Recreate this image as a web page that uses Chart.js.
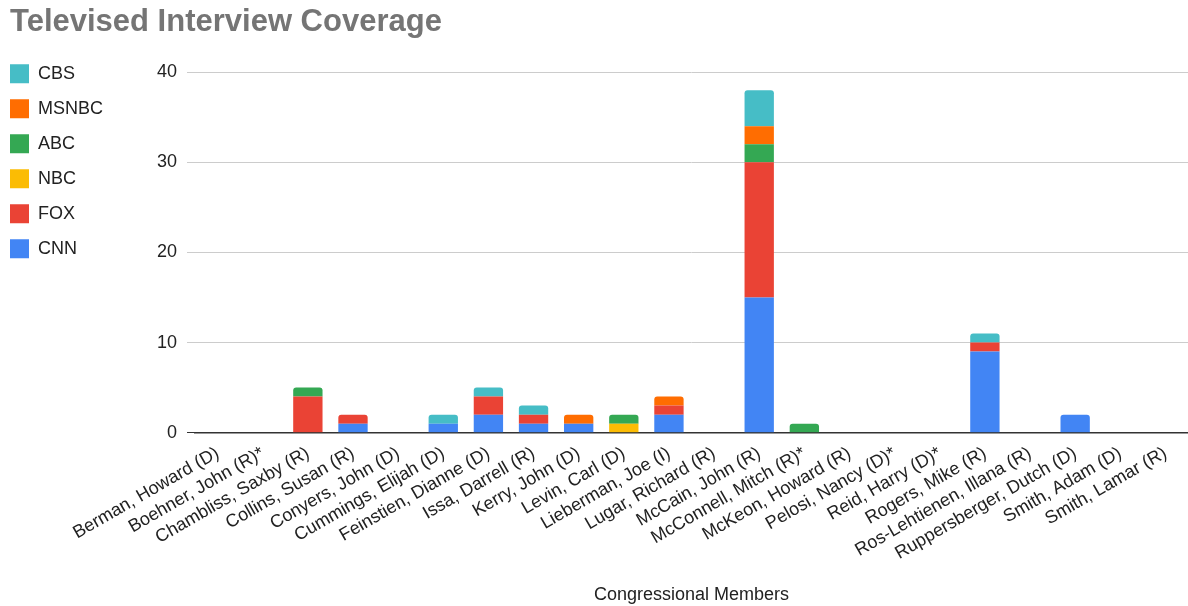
<!DOCTYPE html>
<html>
<head>
<meta charset="utf-8">
<script src="https://cdn.jsdelivr.net/npm/chart.js@4/dist/chart.umd.min.js"></script>
<style>
  html, body { margin: 0; padding: 0; background: #fff; }
  #wrap { width: 1188px; height: 606px; position: relative; }
</style>
</head>
<body>
<div id="wrap"><canvas id="chart"></canvas></div>
<script>
// Congressional members (x categories)
const members = [
    "Berman, Howard (D)", "Boehner, John (R)*", "Chambliss, Saxby (R)", "Collins, Susan (R)",
    "Conyers, John (D)", "Cummings, Elijah (D)", "Feinstien, Dianne (D)", "Issa, Darrell (R)",
    "Kerry, John (D)", "Levin, Carl (D)", "Lieberman, Joe (I)", "Lugar, Richard (R)",
    "McCain, John (R)", "McConnell, Mitch (R)*", "McKeon, Howard (R)", "Pelosi, Nancy (D)*",
    "Reid, Harry (D)*", "Rogers, Mike (R)", "Ros-Lehtienen, Illana (R)", "Ruppersberger, Dutch (D)",
    "Smith, Adam (D)", "Smith, Lamar (R)"
];

// interviews per network, stacked bottom to top
const cnn   = [0, 0, 0, 1, 0, 1, 2, 1, 1, 0, 2, 0, 15, 0, 0, 0, 0, 9, 0, 2, 0, 0];
const fox   = [0, 0, 4, 1, 0, 0, 2, 1, 0, 0, 1, 0, 15, 0, 0, 0, 0, 1, 0, 0, 0, 0];
const nbc   = [0, 0, 0, 0, 0, 0, 0, 0, 0, 1, 0, 0, 0, 0, 0, 0, 0, 0, 0, 0, 0, 0];
const abc   = [0, 0, 1, 0, 0, 0, 0, 0, 0, 1, 0, 0, 2, 1, 0, 0, 0, 0, 0, 0, 0, 0];
const msnbc = [0, 0, 0, 0, 0, 0, 0, 0, 1, 0, 1, 0, 2, 0, 0, 0, 0, 0, 0, 0, 0, 0];
const cbs   = [0, 0, 0, 0, 0, 1, 1, 1, 0, 0, 0, 0, 4, 0, 0, 0, 0, 1, 0, 0, 0, 0];

const yTicks = [0, 10, 20, 30, 40];

const series = [
    { label: "CNN", data: cnn, color: "#4285f4" },
    { label: "FOX", data: fox, color: "#ea4335" },
    { label: "NBC", data: nbc, color: "#fbbc04" },
    { label: "ABC", data: abc, color: "#34a853" },
    { label: "MSNBC", data: msnbc, color: "#ff6d01" },
    { label: "CBS", data: cbs, color: "#46bdc6" }
];

// only the top segment of each stack gets rounded corners
function topRadius(ctx) {
    const i = ctx.dataIndex, d = ctx.datasetIndex;
    if (!series[d].data[i]) return 0;
    for (let k = d + 1; k < series.length; k++) {
        if (series[k].data[i]) return 0;
    }
    return { topLeft: 3, topRight: 3, bottomLeft: 0, bottomRight: 0 };
}

// legend sits flush left and a little above the plot top
const legendNudge = {
    id: "legendNudge",
    afterLayout(chart) {
        const lg = chart.legend;
        lg.top -= 24; lg.bottom -= 24;
        lg.left -= 16; lg.right -= 16;
    }
};

Chart.defaults.font.family = "Arial, 'Liberation Sans', sans-serif";
Chart.defaults.color = "#222";

new Chart(document.getElementById("chart").getContext("2d"), {
    type: "bar",
    data: {
        labels: members,
        datasets: series.map(s => ({
            label: s.label,
            data: s.data,
            backgroundColor: s.color,
            borderWidth: 0,
            borderRadius: topRadius,
            borderSkipped: false,
            barPercentage: 0.65,
            categoryPercentage: 1.0
        }))
    },
    plugins: [legendNudge],
    options: {
        responsive: true,
        maintainAspectRatio: false,
        animation: false,
        layout: { padding: { left: 10, right: 0, top: 4, bottom: 0 } },
        plugins: {
            title: {
                display: true,
                text: "Televised Interview Coverage",
                align: "start",
                color: "#757575",
                font: { size: 31, weight: "bold" },
                padding: { top: 0, bottom: 31 }
            },
            legend: {
                position: "left",
                align: "start",
                fullSize: false,
                reverse: true,
                labels: {
                    boxWidth: 19,
                    boxHeight: 19,
                    padding: 16,
                    color: "#222",
                    font: { size: 18 }
                }
            },
            tooltip: { enabled: false }
        },
        scales: {
            x: {
                stacked: true,
                grid: { display: false },
                border: { color: "#333", width: 1.5 },
                ticks: {
                    autoSkip: false,
                    maxRotation: 30,
                    minRotation: 30,
                    color: "#222",
                    font: { size: 18 },
                    padding: 2
                },
                title: {
                    display: true,
                    text: "Congressional Members",
                    color: "#222",
                    font: { size: 18 },
                    padding: { top: 18, bottom: 0 }
                }
            },
            y: {
                stacked: true,
                min: 0,
                max: 40,
                afterBuildTicks: axis => { axis.ticks = yTicks.map(v => ({ value: v })); },
                afterFit: axis => { axis.width += 18; },
                border: { display: false },
                grid: { color: ctx => ctx.tick && ctx.tick.value === 0 ? "#333" : "#cccccc", lineWidth: 1 },
                ticks: { color: "#222", font: { size: 18 }, padding: 10 }
            }
        }
    }
});
</script>
</body>
</html>
